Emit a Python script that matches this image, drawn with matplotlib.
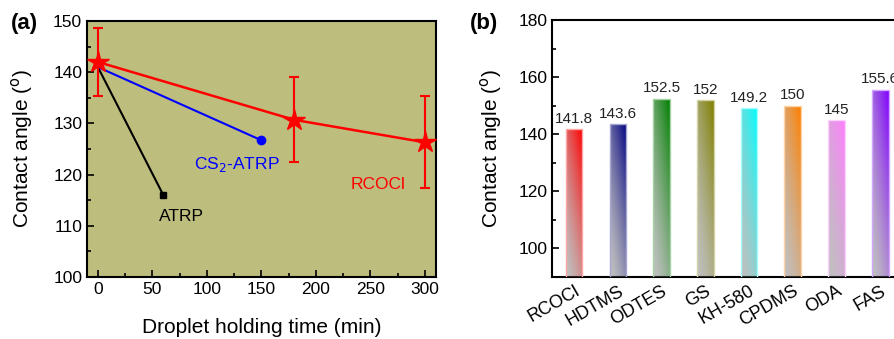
import matplotlib
matplotlib.use("Agg")
import matplotlib.pyplot as plt
import numpy as np
from matplotlib.colors import to_rgb

plt.rcParams["font.family"] = ["Liberation Sans", "DejaVu Sans"]

# ----- data: panel (a) ------------------------------------------------------
rcocl_t = [0, 180, 300]
rcocl_ca = [142.0, 130.7, 126.3]
rcocl_err = [6.6, 8.3, 9.0]

cs2_t = [0, 150]
cs2_ca = [141.0, 126.7]

atrp_t = [0, 60]
atrp_ca = [141.0, 116.0]

# ----- data: panel (b) ------------------------------------------------------
agents = ["RCOCl", "HDTMS", "ODTES", "GS", "KH-580", "CPDMS", "ODA", "FAS"]
angles = [141.8, 143.6, 152.5, 152, 149.2, 150, 145, 155.6]
angle_labels = ["141.8", "143.6", "152.5", "152", "149.2", "150", "145", "155.6"]
bar_colors = ["#ff0000", "#000080", "#008000", "#808000",
              "#00ffff", "#ff8000", "#ff80ff", "#8000ff"]

fig = plt.figure(figsize=(8.95, 3.39), dpi=100)

# ----- panel (a) ------------------------------------------------------------
ax = fig.add_axes([0.0972, 0.183, 0.3898, 0.755])
ax.set_facecolor("#bdbd7e")
ax.plot(atrp_t, atrp_ca, color="black", lw=1.5, marker="s", ms=5,
        markevery=[1], zorder=3)
ax.plot(cs2_t, cs2_ca, color="#0000ff", lw=1.5, marker="o", ms=6,
        markevery=[1], zorder=3)
ax.errorbar(rcocl_t, rcocl_ca, yerr=rcocl_err, color="#ff0000", lw=1.8,
            marker="*", ms=16, capsize=3.5, elinewidth=1.5, capthick=1.5,
            zorder=4)
ax.text(77, 111.9, "ATRP", color="black", fontsize=12.5, ha="center", va="center")
ax.text(127.5, 121.9, r"CS$_2$-ATRP", color="#0000ff", fontsize=12.5,
        ha="center", va="center")
ax.text(257, 118, "RCOCl", color="#ff0000", fontsize=12.5, ha="center", va="center")

ax.set_xlim(-10, 310)
ax.set_ylim(100, 150)
ax.set_xticks(np.arange(0, 301, 50))
ax.set_xticks(np.arange(25, 300, 50), minor=True)
ax.set_yticks(np.arange(100, 151, 10))
ax.set_yticks(np.arange(105, 150, 10), minor=True)
ax.tick_params(which="both", direction="in", labelsize=12.5, width=1.2)
ax.tick_params(which="major", length=5)
ax.tick_params(which="minor", length=3)
ax.set_xlabel("Droplet holding time (min)", fontsize=15, labelpad=15)
ax.set_ylabel("Contact angle ($^{\\rm o}$)", fontsize=15, labelpad=13)
for s in ax.spines.values():
    s.set_linewidth(1.5)
fig.text(0.012, 0.93, "(a)", fontsize=16, fontweight="bold", va="center")

# ----- panel (b) ------------------------------------------------------------
bx = fig.add_axes([0.617, 0.183, 0.391, 0.758])
x = np.arange(len(agents))
width = 0.38
bars = bx.bar(x, np.array(angles) - 90, width=width, bottom=90,
              color="none", edgecolor="none", zorder=2)
# grey (bottom-left) -> colour (top-right) gradient fill
grey = np.array(to_rgb("#c0c0c0"))
u = np.linspace(0, 1, 40)[None, :]
v = np.linspace(0, 1, 200)[:, None]
tt = np.clip(0.4 * u + 0.6 * v, 0, 1) ** 1.4
for rect, col in zip(bars, bar_colors):
    c = np.array(to_rgb(col))
    img = grey[None, None, :] * (1 - tt[..., None]) + c[None, None, :] * tt[..., None]
    x0, y0 = rect.get_x(), rect.get_y()
    im = bx.imshow(img, extent=[x0, x0 + rect.get_width(), y0, y0 + rect.get_height()],
                   origin="lower", aspect="auto", zorder=2, interpolation="bilinear")
    im.set_clip_path(rect)
    edge = c * 0.35 + 0.65
    bx.add_patch(plt.Rectangle((x0, y0), rect.get_width(), rect.get_height(),
                               fill=False, edgecolor=edge, lw=1, zorder=3))
for xi, val, lab in zip(x, angles, angle_labels):
    bx.text(xi, val + 1.2, lab, ha="center", va="bottom", fontsize=11,
            color="#222222")

bx.set_xlim(-0.5, 7.5)
bx.set_ylim(90, 180)
bx.set_yticks(np.arange(100, 181, 20))
bx.set_yticks(np.arange(110, 180, 20), minor=True)
bx.set_xticks(x)
bx.set_xticklabels(agents, rotation=30, ha="right", rotation_mode="anchor")
bx.tick_params(axis="x", length=0, labelsize=13, pad=4)
bx.tick_params(axis="y", which="both", direction="in", labelsize=12.5, width=1.2)
bx.tick_params(axis="y", which="major", length=5)
bx.tick_params(axis="y", which="minor", length=3)
bx.set_ylabel("Contact angle ($^{\\rm o}$)", fontsize=15, labelpad=10)
for s in bx.spines.values():
    s.set_linewidth(1.5)
fig.text(0.525, 0.93, "(b)", fontsize=16, fontweight="bold", va="center")

fig.savefig("out.png", dpi=100)
